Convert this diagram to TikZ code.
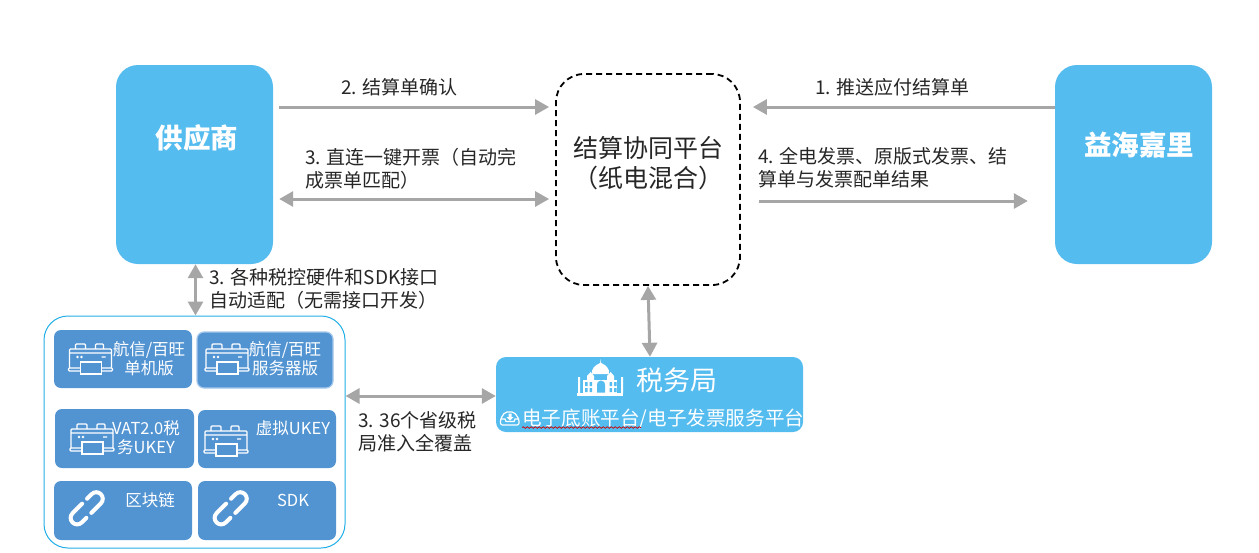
\documentclass[tikz,border=0pt]{standalone}
\usepackage{fontspec}
\setmainfont{Noto Sans CJK SC}
\usepackage{tikz}
\usetikzlibrary{arrows.meta,positioning,decorations.pathmorphing}
\definecolor{skyfill}{HTML}{55BCEF}
\definecolor{cellfill}{HTML}{5294D2}
\definecolor{linkgray}{HTML}{A6A6A6}
\definecolor{groupline}{HTML}{22AEE6}
\definecolor{celledge}{HTML}{A5C8EA}
\definecolor{inkdark}{HTML}{262626}

\begin{document}
\begin{tikzpicture}[x=1pt,y=-1pt,>=Triangle]
    \tikzset{party/.style={fill=skyfill,rounded corners=22pt,minimum width=157pt,minimum height=199pt,inner sep=0pt}}
    \tikzset{cell/.style={fill=cellfill,rounded corners=7pt,minimum width=138pt,minimum height=58pt,inner sep=0pt}}
    \tikzset{head/.style={text=white,font=\fontsize{27.5}{30}\selectfont\bfseries,inner sep=0pt}}
    \tikzset{lbl/.style={text=inkdark,font=\fontsize{19}{23}\selectfont,anchor=west,align=left,inner sep=0pt}}
    \tikzset{celltxt/.style={text=white,font=\fontsize{16.5}{19}\selectfont,align=center,inner sep=0pt}}
    \tikzset{link/.style={draw=linkgray,line width=3pt,{Triangle[length=14pt,width=15pt]}-{Triangle[length=14pt,width=15pt]}}}
    \tikzset{linkone/.style={draw=linkgray,line width=3pt,-{Triangle[length=14pt,width=15pt]}}}
    \tikzset{printer/.pic={
        \draw[white,line width=1.3pt,rounded corners=1pt]
            (-15,-10) -- (-15,-15) -- (-5,-15) -- (-5,-10)
            (5,-10) -- (5,-15) -- (13,-15) -- (13,-10)
            (-21,9) -- (-21,-10) -- (21,-10) -- (21,9)
            (-21,-6) -- (21,-6)
            (-22,9) -- (22,9) -- (22,12) -- (-22,12) -- cycle
            (11,-2) -- (15,-2);
        \draw[white,fill=cellfill,line width=1.3pt] (-10,3) rectangle (11,15);
        \fill[white] (-13,-2) circle (1.3) (-9,-2) circle (1.3);
    }}
    \tikzset{chainlink/.pic={
        \begin{scope}[rotate=45]
        \draw[white,line width=4pt,rounded corners=6.4pt,line cap=round] (7,-6.5) -- (20,-6.5) -- (20,6.5) -- (0,6.5);
        \draw[white,line width=4pt,rounded corners=6.4pt,line cap=round] (-7,6.5) -- (-20,6.5) -- (-20,-6.5) -- (0,-6.5);
        \end{scope}
    }}

    \useasboundingbox (0,0) rectangle (1259,552);

    % Parties and platform
    \node[party] (supplier) at (194.5,164.5) {};
    \node[party] (yihai) at (1133.5,164.5) {};
    \node[draw=black,line width=1.8pt,dash pattern=on 6pt off 4pt,rounded corners=28pt,minimum width=184pt,minimum height=211pt] (platform) at (648,179.5) {};
    \node[head] (suppliertxt) at (197,138) {供应商};
    \node[head] (yihaitxt) at (1139,145) {益海嘉里};
    \node[text=inkdark,font=\fontsize{25}{30}\selectfont,align=center,inner sep=0pt] (platformtxt) at (648,163) {结算协同平台\\（纸电混合）};

    % Device group
    \node[draw=groupline,line width=1pt,fill=white,rounded corners=24pt,minimum width=301pt,minimum height=232pt] (group) at (194.5,432) {};
    \node[cell] (cella) at (123,359) {};
    \node[cell,draw=celledge,line width=1.2pt,minimum width=136pt,minimum height=56pt] (cellb) at (265,360) {};
    \node[cell,minimum width=139pt,minimum height=59pt] (cellc) at (124.5,438.5) {};
    \node[cell] (celld) at (267,439) {};
    \node[cell,minimum height=59pt] (celle) at (123,510.5) {};
    \node[cell,minimum height=59pt] (cellf) at (267,510.5) {};
    \pic at (90.5,359) {printer};
    \pic at (227,359) {printer};
    \pic at (92,439) {printer};
    \pic at (226,441) {printer};
    \pic at (86.7,508.3) {chainlink};
    \pic at (230.7,508.3) {chainlink};
    \node[celltxt] (cellatxt) at (149,358.5) {航信/百旺\\单机版};
    \node[celltxt] (cellbtxt) at (285,358.5) {航信/百旺\\服务器版};
    \node[celltxt] (cellctxt) at (146,437.5) {VAT2.0税\\务UKEY};
    \node[celltxt] (celldtxt) at (293,428) {虚拟UKEY};
    \node[celltxt] (celletxt) at (150,500) {区块链};
    \node[celltxt] (cellftxt) at (293,500) {SDK};

    % Tax bureau
    \node[fill=skyfill,rounded corners=10pt,minimum width=307pt,minimum height=75pt,inner sep=0pt] (tax) at (649.5,394.5) {};
    \node[text=white,font=\fontsize{27}{30}\selectfont,inner sep=0pt] (taxtxt) at (676.5,380) {税务局};
    \node[text=white,font=\fontsize{19.6}{22}\selectfont,anchor=west,inner sep=0pt] (taxsub) at (522,419) {电子底账平台/电子发票服务平台};
    \draw[red!80!black,line width=0.7pt,decorate,decoration={snake,amplitude=0.8pt,segment length=4pt}] (taxsub.west |- 0,427.5) -- ++(119,0);
    % temple
    \fill[white] (577,392.5) rectangle (623,396);
    \fill[white] (583,379.5) rectangle (617,392.5);
    \fill[white] (600.7,359) -- (601.2,363) .. controls (606,365) and (610,369) .. (609,374) -- (592,374) .. controls (591,369) and (595,365) .. (600.2,363) -- cycle;
    \fill[white] (590.7,372) -- (594,376) -- (594,380) -- (587,380) -- (587,376) -- cycle;
    \fill[white] (610.7,372) -- (614,376) -- (614,380) -- (607,380) -- (607,376) -- cycle;
    \fill[white] (578,377) rectangle (580,393) (621,377) rectangle (623,393);
    \fill[skyfill] (597,392.5) -- (597,385) .. controls (597,381.5) and (599.5,381) .. (601,380.5) .. controls (602.5,381) and (605,381.5) .. (605,385) -- (605,392.5) -- cycle;
    \foreach \ax in {585,589.5,609.5,614}{ \fill[skyfill] (\ax,382) rectangle ++(2.5,4) (\ax,388) rectangle ++(2.5,4); }
    % tray
    \draw[white,line width=1.2pt,rounded corners=2pt] (505,412) -- (514,412) -- (519,419) -- (519,425) -- (500.5,425) -- (500.5,419) -- cycle;
    \draw[white,line width=1.2pt] (500.5,419) -- (505,419) -- (506,421.5) -- (514,421.5) -- (515,419) -- (519,419);
    \fill[white] (508.5,413.5) rectangle (511.5,417) (506.5,417) -- (513.5,417) -- (510,420.5) -- cycle;

    % Connectors
    \draw[linkone] ([xshift=6pt,yshift=57.5pt]supplier.east) -- ([xshift=-6pt,yshift=72.5pt]platform.west);
    \draw[link] ([xshift=6pt,yshift=-34.5pt]supplier.east) -- ([xshift=-6pt,yshift=-19.5pt]platform.west);
    \draw[linkone] ([yshift=57.5pt]yihai.west) -- ([xshift=12pt,yshift=72.5pt]platform.east);
    \draw[linkone] ([xshift=18pt,yshift=-21.5pt]platform.east) -- ([xshift=-27pt,yshift=-36.5pt]yihai.west);
    \draw[link] ([xshift=1pt]supplier.south) -- ([xshift=1pt]supplier.south |- group.north);
    \draw[link] ([yshift=36pt]group.east) -- ([yshift=-1.5pt]tax.west);
    \draw[link] (platform.south) -- ([xshift=0.5pt]tax.north);

    % Labels
    \node[lbl] (stepone) at (815,87) {1. 推送应付结算单};
    \node[lbl] (steptwo) at (341,87) {2. 结算单确认};
    \node[lbl] (stepthree) at (305,168.5) {3. 直连一键开票（自动完\\成票单匹配）};
    \node[lbl] (stepfour) at (758,167.5) {4. 全电发票、原版式发票、结\\算单与发票配单结果};
    \node[lbl] (hwnote) at (209,288.5) {3. 各种税控硬件和SDK接口\\自动适配（无需接口开发）};
    \node[lbl] (provnote) at (358,431.5) {3. 36个省级税\\局准入全覆盖};
\end{tikzpicture}
\end{document}
